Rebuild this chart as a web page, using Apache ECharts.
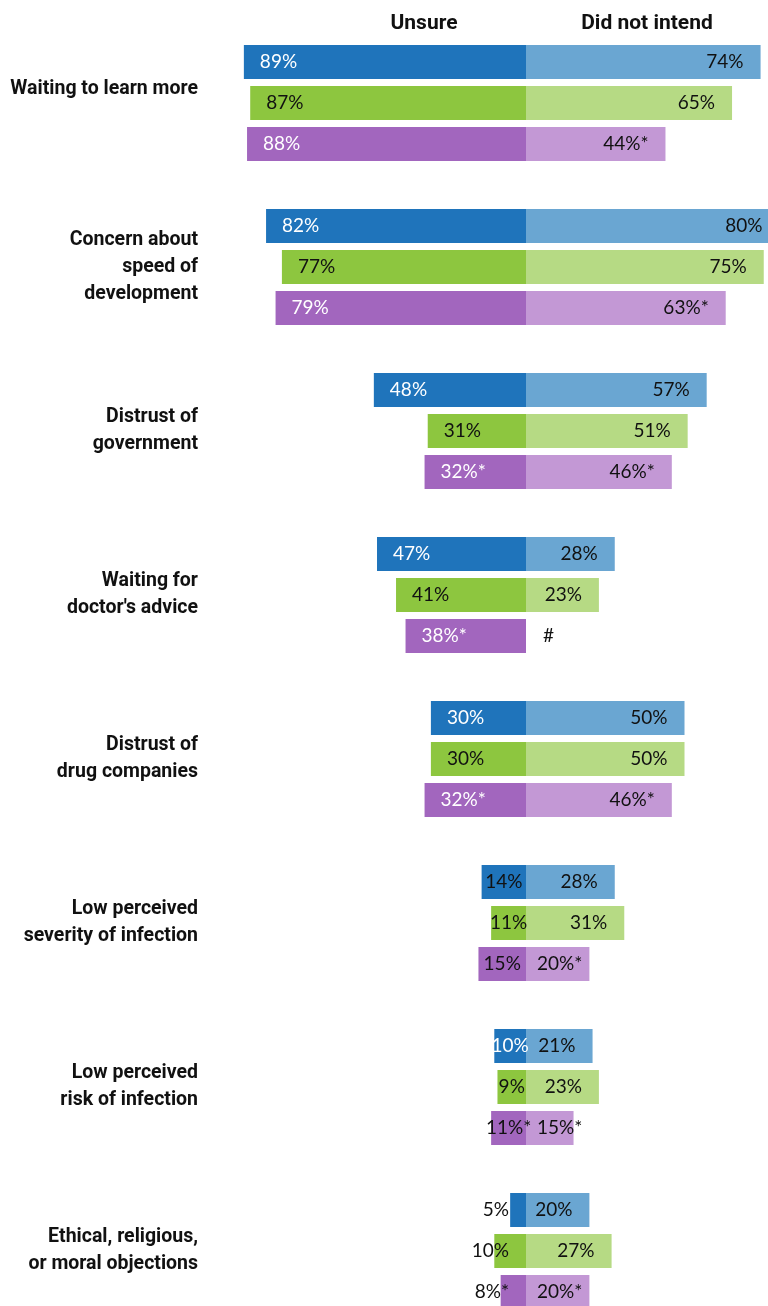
<!DOCTYPE html>
<html>
<head>
<meta charset="utf-8">
<script src="https://cdn.jsdelivr.net/npm/echarts@6/dist/echarts.min.js"></script>
<style>
  html, body { margin: 0; padding: 0; background: #fff; }
  #chart { width: 768px; height: 1306px; }
</style>
</head>
<body>
<div id="chart"></div>
<script>
// ---- data ----
const categories = [
  'Waiting to learn more',
  'Concern about\nspeed of\ndevelopment',
  'Distrust of\ngovernment',
  "Waiting for\ndoctor's advice",
  'Distrust of\ndrug companies',
  'Low perceived\nseverity of infection',
  'Low perceived\nrisk of infection',
  'Ethical, religious,\nor moral objections'
];
const headers = ['Unsure', 'Did not intend'];

const unsureBlue   = [89, 82, 48, 47, 30, 14, 10, 5];
const unsureGreen  = [87, 77, 31, 41, 30, 11, 9, 10];
const unsurePurple = [88, 79, 32, 38, 32, 15, 11, 8];

const dniBlue   = [74, 80, 57, 28, 50, 28, 21, 20];
const dniGreen  = [65, 75, 51, 23, 50, 31, 23, 27];
const dniPurple = [44, 63, 46, null, 46, 20, 15, 20];

// significance markers (*) and suppressed value marker (#)
const unsurePurpleSig = [false, false, true, true, true, false, true, true];
const dniPurpleSig    = [true, true, true, false, true, true, true, true];
const missingMark = '#';

// ---- styles ----
const colors = {
  blue:   ['#1F74BB', '#6AA6D2'],
  green:  ['#8DC63F', '#B6DA84'],
  purple: ['#A266BE', '#C398D5']
};
const labelFont = 'Lato, "Open Sans", sans-serif';
const catFont = 'Roboto, "Liberation Sans Narrow", sans-serif';
const PX_PER_UNIT = 634 / 200;

function estTextWidth(s) {
  let w = 0;
  for (const ch of s) {
    if (ch === '%') w += 14; else if (ch === '*') w += 8; else w += 11;
  }
  return w;
}

function unsureItems(vals, sig, colorKey) {
  return vals.map((v, i) => {
    const txt = v + '%' + (sig && sig[i] ? '*' : '');
    const darkBar = colorKey !== 'green';
    let label;
    if (i === categories.length - 1) {
      label = { position: 'insideRight', distance: 17, color: '#111' };
    } else if (v < 20) {
      const white = colorKey === 'blue' && v <= 10;
      label = { position: 'inside', distance: 0, color: white ? '#fff' : '#111' };
    } else {
      label = { position: 'insideLeft', distance: 16, color: darkBar ? '#fff' : '#111' };
    }
    label.formatter = txt;
    return { value: -v, label: label };
  });
}

function dniItems(vals, sig) {
  return vals.map((v, i) => {
    if (v === null) {
      return { value: 0, label: { formatter: missingMark, position: 'insideLeft', distance: 17, color: '#111' } };
    }
    const txt = v + '%' + (sig && sig[i] ? '*' : '');
    const room = v * PX_PER_UNIT - 17 - estTextWidth(txt);
    const label = room < 10
      ? { position: 'insideLeft', distance: 11, color: '#111' }
      : { position: 'insideRight', distance: 17, color: '#111' };
    label.formatter = txt;
    return { value: v, label: label };
  });
}

function mkSeries(name, stack, color, data) {
  return {
    name: name,
    type: 'bar',
    stack: stack,
    stackStrategy: 'positive',
    barWidth: 34,
    barGap: '20.6%',
    itemStyle: { color: color },
    label: { show: true, fontFamily: labelFont, fontSize: 19 },
    emphasis: { disabled: true },
    animation: false,
    data: data
  };
}

const chart = echarts.init(document.getElementById('chart'), null, { renderer: 'canvas' });
chart.setOption({
  animation: false,
  backgroundColor: '#fff',
  grid: { left: 209, top: 21, width: 634, height: 1312, containLabel: false, outerBoundsMode: 'none' },
  xAxis: {
    type: 'value', min: -100, max: 100, show: false
  },
  yAxis: {
    type: 'category',
    inverse: true,
    data: categories,
    axisLine: { show: false, onZero: false },
    axisTick: { show: false },
    splitLine: { show: false },
    axisLabel: {
      margin: 11,
      fontFamily: catFont,
      fontWeight: 'bold',
      fontSize: 19.5,
      lineHeight: 27,
      color: '#111',
      align: 'right',
      formatter: (n) => n.indexOf('\n') < 0 ? n + '\n ' : n
    }
  },
  graphic: [
    { type: 'text', x: 424, y: 24, style: { text: headers[0], textAlign: 'center', textVerticalAlign: 'middle', font: 'bold 21px ' + catFont, fill: '#111' } },
    { type: 'text', x: 647, y: 24, style: { text: headers[1], textAlign: 'center', textVerticalAlign: 'middle', font: 'bold 21px ' + catFont, fill: '#111' } }
  ],
  series: [
    mkSeries('Unsure blue', 'blue', colors.blue[0], unsureItems(unsureBlue, null, 'blue')),
    mkSeries('DNI blue', 'blue', colors.blue[1], dniItems(dniBlue, null)),
    mkSeries('Unsure green', 'green', colors.green[0], unsureItems(unsureGreen, null, 'green')),
    mkSeries('DNI green', 'green', colors.green[1], dniItems(dniGreen, null)),
    mkSeries('Unsure purple', 'purple', colors.purple[0], unsureItems(unsurePurple, unsurePurpleSig, 'purple')),
    mkSeries('DNI purple', 'purple', colors.purple[1], dniItems(dniPurple, dniPurpleSig))
  ]
});
</script>
</body>
</html>
